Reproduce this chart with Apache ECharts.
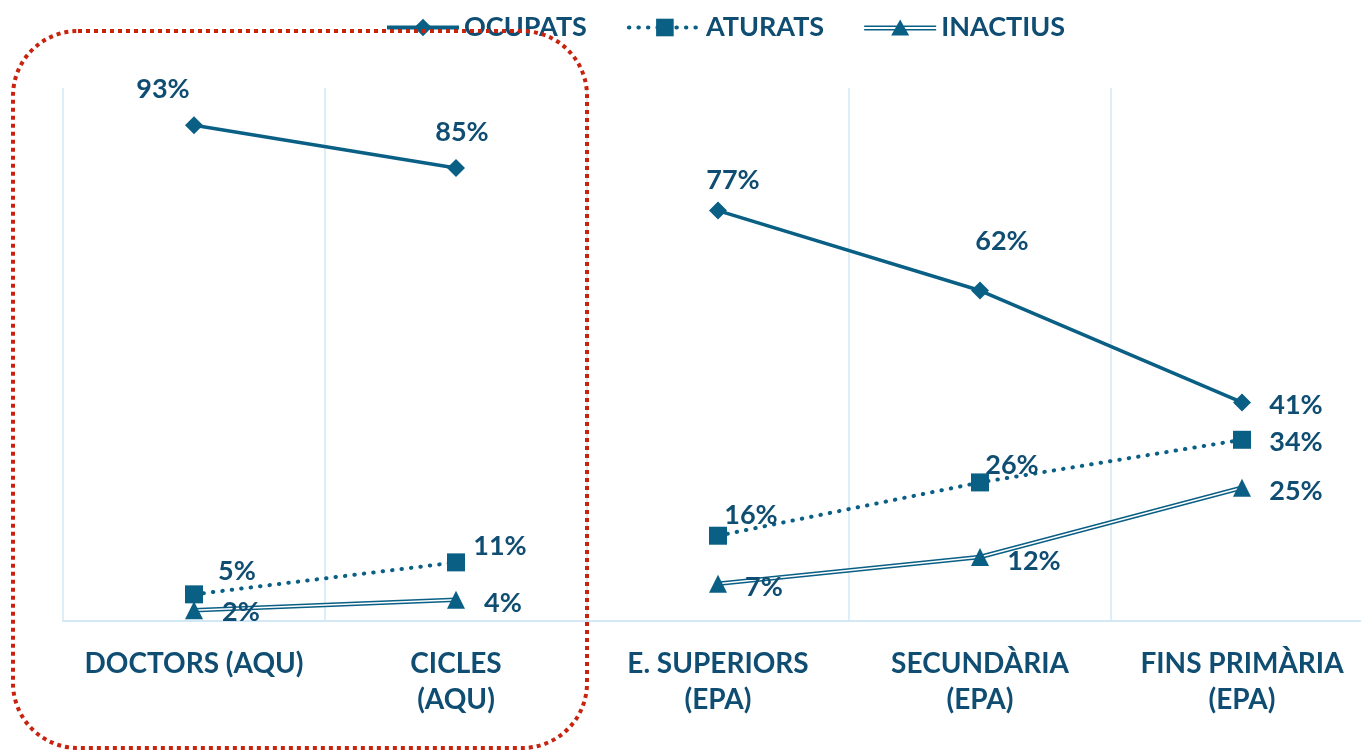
<!DOCTYPE html>
<html>
<head>
<meta charset="utf-8">
<script src="https://cdn.jsdelivr.net/npm/echarts@6/dist/echarts.min.js"></script>
<style>
    html, body { margin: 0; padding: 0; background: #fff; }
    #chart { width: 1361px; height: 752px; }
</style>
</head>
<body>
<div id="chart"></div>
<script>
// dades (%)
var categories = ['DOCTORS (AQU)', 'CICLES\n(AQU)', 'E. SUPERIORS\n(EPA)', 'SECUNDÀRIA\n(EPA)', 'FINS PRIMÀRIA\n(EPA)'];
var ocupats = [93, 85, 77, 62, 41];
var aturats = [5, 11, 16, 26, 34];
var inactius = [2, 4, 7, 12, 25];
// font de cada categoria: les linies no s'uneixen entre AQU i EPA
var fonts = ['AQU', 'AQU', 'EPA', 'EPA', 'EPA'];

var blau = '#0A5F85';
var textBlau = '#0F4E72';
var font = 'Lato, "Open Sans", sans-serif';

// posicio de cada etiqueta respecte al punt
var offOcupats = [[-31, -36], [6, -36], [15, -30], [22, -49], [54, 3]];
var offAturats = [[43, -23], [44, -16], [33, -20], [32, -17], [54, 3]];
var offInactius = [[47, 2], [47, 4], [46, 4], [54, 4], [54, 4]];

function tram(values, grup, offsets) {
    return values.map(function (v, i) {
        if (fonts[i] !== grup) return '-';
        if (!offsets) return v;
        return { value: v, label: { offset: offsets[i] } };
    });
}

var labelBase = {
    show: true,
    position: 'inside',
    align: 'center',
    verticalAlign: 'middle',
    color: textBlau,
    fontFamily: font,
    fontWeight: 'bold',
    fontSize: 27,
    formatter: '{c}%'
};

var series = [];
['AQU', 'EPA'].forEach(function (g) {
    series.push({
        name: 'OCUPATS',
        type: 'line',
        z: 3,
        data: tram(ocupats, g, offOcupats),
        symbol: 'diamond',
        symbolSize: 18,
        itemStyle: { color: blau },
        lineStyle: { color: blau, width: 3.5 },
        label: labelBase
    });
    series.push({
        name: 'ATURATS',
        type: 'line',
        z: 3,
        data: tram(aturats, g, offAturats),
        symbol: 'rect',
        symbolSize: 18,
        itemStyle: { color: blau },
        lineStyle: { color: blau, width: 4, type: [0.5, 9], cap: 'round' },
        label: labelBase
    });
    series.push({
        name: 'INACTIUS',
        type: 'line',
        z: 2,
        data: tram(inactius, g),
        symbol: 'none',
        itemStyle: { color: blau },
        lineStyle: { color: blau, width: 4.5 }
    });
    series.push({
        name: 'INACTIUS',
        type: 'line',
        z: 3,
        data: tram(inactius, g),
        symbol: 'none',
        itemStyle: { color: '#fff' },
        lineStyle: { color: '#fff', width: 1.5 }
    });
    series.push({
        name: 'INACTIUS',
        type: 'line',
        z: 4,
        data: tram(inactius, g, offInactius),
        symbol: 'triangle',
        symbolSize: 18,
        itemStyle: { color: blau },
        lineStyle: { width: 0, opacity: 0 },
        label: labelBase
    });
});

var chart = echarts.init(document.getElementById('chart'));
chart.setOption({
    animation: false,
    legend: {
        left: 380,
        top: 9,
        itemWidth: 72,
        itemHeight: 22,
        itemGap: 40,
        textStyle: { color: textBlau, fontFamily: font, fontWeight: 'bold', fontSize: 27 },
        data: [
            { name: 'OCUPATS', lineStyle: { width: 4 } },
            { name: 'ATURATS', lineStyle: { width: 4 } },
            { name: 'INACTIUS', icon: 'path://M0,7H72V8.6H0Z M0,10.4H72V12H0Z M27,17L36,1L45,17Z' }
        ]
    },
    grid: { left: 63, top: 88, width: 1310, height: 533, outerBoundsMode: 'none', containLabel: false },
    xAxis: {
        type: 'category',
        boundaryGap: true,
        data: categories,
        axisTick: { show: false },
        axisLine: { lineStyle: { color: '#D3E8F7', width: 2 } },
        splitLine: { show: true, lineStyle: { color: '#D3E8F7', width: 1.5 } },
        axisLabel: {
            interval: 0,
            margin: 25,
            color: textBlau,
            fontFamily: font,
            fontWeight: 'bold',
            fontSize: 28,
            lineHeight: 36
        }
    },
    yAxis: {
        type: 'value',
        min: 0,
        max: 100,
        show: false,
        splitLine: { show: false }
    },
    graphic: [{
        type: 'rect',
        z: 100,
        shape: { x: 13, y: 31, width: 574, height: 717, r: 65 },
        style: { fill: 'none', stroke: '#C8230F', lineWidth: 4, lineDash: [4, 4] }
    }],
    series: series
});
</script>
</body>
</html>
